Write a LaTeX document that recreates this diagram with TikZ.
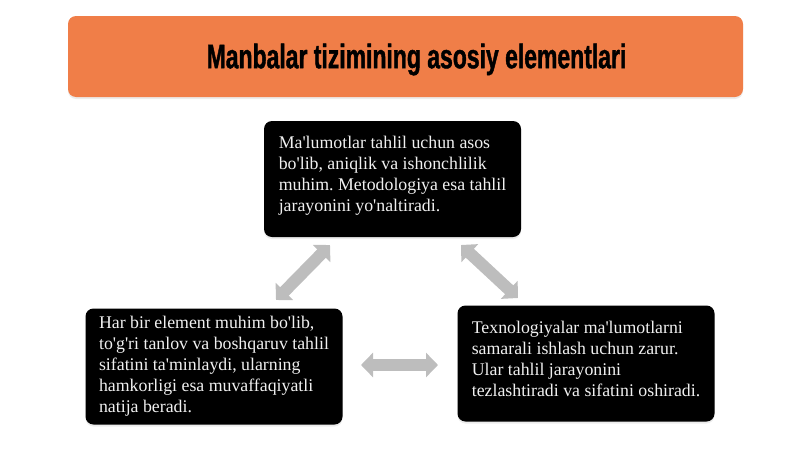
\documentclass[tikz,border=0pt]{standalone}
\usepackage{fontspec}
\setmainfont[Ligatures=TeXOff]{Liberation Serif}
\newfontfamily\titlefont[FakeStretch=0.675,FakeBold=1.2]{Liberation Sans}
\usetikzlibrary{arrows.meta,shadows}
\definecolor{titleorange}{RGB}{240,126,72}
\definecolor{arrowgray}{RGB}{189,189,189}
\definecolor{boxtext}{RGB}{240,240,240}
\frenchspacing
\newcommand{\padbelow}[1]{\rule[-#1]{0pt}{0pt}}

\begin{document}
\begin{tikzpicture}[x=1pt,y=-1pt,
    titlebar/.style={fill=titleorange, rounded corners=8pt, minimum width=675pt,
        minimum height=81pt, inner sep=0pt,
        drop shadow={shadow xshift=0pt, shadow yshift=-2pt, opacity=0.15}},
    titletext/.style={font=\titlefont\bfseries\fontsize{34}{40}\selectfont, text=black, inner sep=0pt},
    infobox/.style={fill=black, rounded corners=8pt, minimum width=257pt,
        minimum height=116pt, align=left,
        text=boxtext, font=\fontsize{17.8}{21}\selectfont,
        drop shadow={shadow xshift=0pt, shadow yshift=-2pt, opacity=0.15}},
    linkarrow/.style={line width=12pt, draw=arrowgray,
        {Triangle[length=12pt,width=24pt]}-{Triangle[length=12pt,width=24pt]}}]
    \useasboundingbox (0,0) rectangle (800,450);

    % Title
    \node[titlebar] (bar) at (405.5,56.5) {};
    \node[titletext] (title) at ([xshift=11pt,yshift=-3pt]bar.center) {Manbalar tizimining asosiy elementlari};

    % Boxes
    \node[infobox] (data) at (392.5,179) {Ma'lumotlar tahlil uchun asos\\
        bo'lib, aniqlik va ishonchlilik\\
        muhim. Metodologiya esa tahlil\\
        jarayonini yo'naltiradi.\padbelow{10pt}};
    \node[infobox] (element) at (214,366.5) {Har bir element muhim bo'lib,\\
        to'g'ri tanlov va boshqaruv tahlil\\
        sifatini ta'minlaydi, ularning\\
        hamkorligi esa muvaffaqiyatli\\
        natija beradi.};
    \node[infobox] (tech) at (586,363.5) {Texnologiyalar ma'lumotlarni\\
        samarali ishlash uchun zarur.\\
        Ular tahlil jarayonini\\
        tezlashtiradi va sifatini oshiradi.\padbelow{10pt}};

    % Arrows
    \coordinate (dl) at (330,245);
    \coordinate (el) at (276,300);
    \coordinate (dr) at (461,245);
    \coordinate (tr) at (518,298);
    \coordinate (eh) at (361,365);
    \coordinate (th) at (438,365);
    \draw[linkarrow] (dl) -- (el);
    \draw[linkarrow] (dr) -- (tr);
    \draw[linkarrow] (eh) -- (th);
\end{tikzpicture}
\end{document}
